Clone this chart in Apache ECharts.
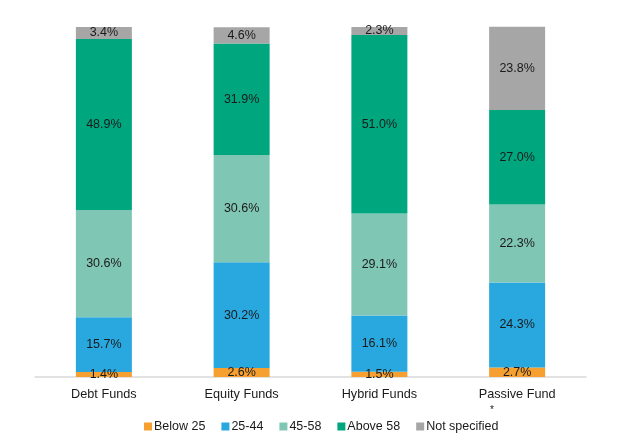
<!DOCTYPE html>
<html>
<head>
<meta charset="utf-8">
<script src="https://cdn.jsdelivr.net/npm/echarts@6/dist/echarts.min.js"></script>
<style>html,body{margin:0;padding:0;background:#fff;}#c{width:622px;height:445px;}</style>
</head>
<body>
<div id="c"></div>
<script>
const categories = ['Debt Funds', 'Equity Funds', 'Hybrid Funds', 'Passive Fund'];
const below25 = [1.4, 2.6, 1.5, 2.7];
const age25to44 = [15.7, 30.2, 16.1, 24.3];
const age45to58 = [30.6, 30.6, 29.1, 22.3];
const above58 = [48.9, 31.9, 51.0, 27.0];
const notSpecified = [3.4, 4.6, 2.3, 23.8];
const seriesNames = ['Below 25', '25-44', '45-58', 'Above 58', 'Not specified'];
const colors = ['#F5A030', '#29A8E0', '#80C6B4', '#00A67E', '#A6A6A6'];

const font = 'Liberation Sans, Arial, sans-serif';
const chart = echarts.init(document.getElementById('c'), null, {renderer: 'canvas'});
const dataSets = [below25, age25to44, age45to58, above58, notSpecified];
const series = dataSets.map((d, i) => ({
  name: seriesNames[i],
  type: 'bar',
  stack: 'total',
  barWidth: 56,
  clip: false,
  itemStyle: {color: colors[i]},
  label: {
    show: true,
    position: 'inside',
    formatter: p => p.value.toFixed(1) + '%',
    color: '#1a1a1a',
    fontFamily: font,
    fontSize: 12.5
  },
  emphasis: {disabled: true},
  data: d
}));

chart.setOption({
  animation: false,
  color: colors,
  grid: {left: 35, right: 36, top: 27, bottom: 68},
  xAxis: {
    type: 'category',
    data: categories,
    axisLine: {lineStyle: {color: '#D9D9D9', width: 1.5}},
    axisTick: {show: false},
    axisLabel: {color: '#1a1a1a', fontFamily: font, fontSize: 12.7, margin: 11}
  },
  yAxis: {
    type: 'value', min: 0, max: 100,
    show: false,
    splitLine: {show: false}
  },
  legend: {
    bottom: 7,
    left: 139,
    itemWidth: 8,
    itemHeight: 8,
    itemGap: 16,
    icon: 'rect',
    textStyle: {color: '#1a1a1a', fontFamily: font, fontSize: 12.5, padding: [0, 0, 0, -3]},
    data: seriesNames
  },
  graphic: [{
    type: 'text',
    left: 490,
    top: 405,
    style: {text: '*', fill: '#1a1a1a', font: '10px ' + font}
  }],
  series: series
});
</script>
</body>
</html>
